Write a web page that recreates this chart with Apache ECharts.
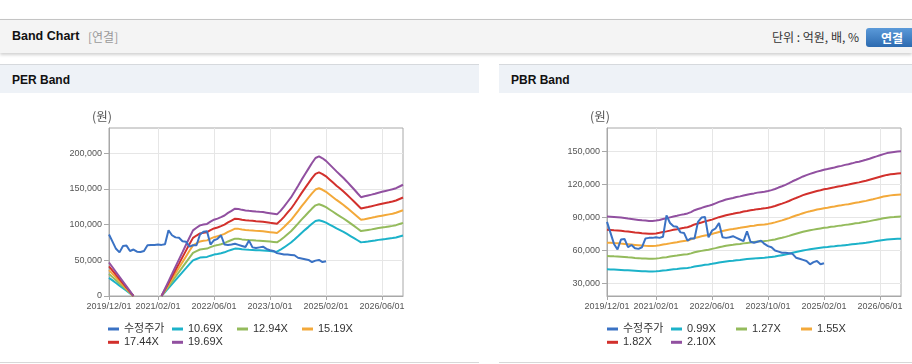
<!DOCTYPE html>
<html>
<head>
<meta charset="utf-8">
<script src="https://cdn.jsdelivr.net/npm/echarts@6/dist/echarts.min.js"></script>
<style>
html,body{margin:0;padding:0;width:912px;height:364px;overflow:hidden;background:#fff;font-family:"Liberation Sans","Noto Sans CJK KR",sans-serif;}
#topbar{position:absolute;left:0;top:19px;width:912px;height:33px;background:#f4f4f4;border-top:1px solid #c4c4c4;box-shadow:0 2px 3px rgba(0,0,0,0.18);}
#topbar .t{position:absolute;left:12px;top:9px;font-size:12.5px;font-weight:bold;color:#111;}
#topbar .s{position:absolute;left:88px;top:9px;font-size:12px;color:#999;font-family:"Noto Sans CJK KR",sans-serif;line-height:15px;}
#topbar .u{position:absolute;right:53px;top:9px;font-size:12px;color:#333;font-family:"Noto Sans CJK KR",sans-serif;line-height:15px;}
#topbar .b{position:absolute;left:866px;top:8px;width:52px;height:19px;border-radius:3px;background:linear-gradient(#5b9ad9,#2c6ab0);color:#fff;font-weight:bold;font-size:12px;line-height:19px;text-align:center;font-family:"Noto Sans CJK KR",sans-serif;}
.ph{position:absolute;top:64px;height:28px;background:#eef2f7;border-top:1px solid #d6d9dd;}
.ph span{position:absolute;left:12px;top:8px;font-size:12px;font-weight:bold;color:#111;}
.pb{position:absolute;top:362px;height:1px;background:#d8d8d8;}
#chart{position:absolute;left:0;top:0;width:912px;height:364px;z-index:2;}
</style>
</head>
<body>
<div id="topbar"><div class="t">Band Chart</div><div class="s">[연결]</div><div class="u">단위 : 억원, 배, %</div><div class="b">연결</div></div>
<div class="ph" style="left:0;width:479px;"><span>PER Band</span></div>
<div class="ph" style="left:499px;width:413px;"><span>PBR Band</span></div>
<div class="pb" style="left:0;width:479px;"></div>
<div class="pb" style="left:499px;width:413px;"></div>
<div id="chart"></div>
<script>
// ---- categories (monthly) ----
const categories = [
'2019/12/01',
'2020/01/01','2020/02/01','2020/03/01','2020/04/01','2020/05/01','2020/06/01','2020/07/01','2020/08/01','2020/09/01','2020/10/01','2020/11/01','2020/12/01',
'2021/01/01','2021/02/01','2021/03/01','2021/04/01','2021/05/01','2021/06/01','2021/07/01','2021/08/01','2021/09/01','2021/10/01','2021/11/01','2021/12/01',
'2022/01/01','2022/02/01','2022/03/01','2022/04/01','2022/05/01','2022/06/01','2022/07/01','2022/08/01','2022/09/01','2022/10/01','2022/11/01','2022/12/01',
'2023/01/01','2023/02/01','2023/03/01','2023/04/01','2023/05/01','2023/06/01','2023/07/01','2023/08/01','2023/09/01','2023/10/01','2023/11/01','2023/12/01',
'2024/01/01','2024/02/01','2024/03/01','2024/04/01','2024/05/01','2024/06/01','2024/07/01','2024/08/01','2024/09/01','2024/10/01','2024/11/01','2024/12/01',
'2025/01/01','2025/02/01','2025/03/01','2025/04/01','2025/05/01','2025/06/01','2025/07/01','2025/08/01','2025/09/01','2025/10/01','2025/11/01','2025/12/01',
'2026/01/01','2026/02/01','2026/03/01','2026/04/01','2026/05/01','2026/06/01','2026/07/01','2026/08/01','2026/09/01','2026/10/01','2026/11/01','2026/12/01'
];
const xTickLabels = ['2019/12/01','2021/02/01','2022/06/01','2023/10/01','2025/02/01','2026/06/01'];
const perYTicks = [0,50000,100000,150000,200000];
const pbrYTicks = [30000,60000,90000,120000,150000];

const perNames = ['수정주가','10.69X','12.94X','15.19X','17.44X','19.69X'];
const pbrNames = ['수정주가','0.99X','1.27X','1.55X','1.82X','2.10X'];

// ---- 수정주가 (adjusted price) ----
const price = [
86000,76000,66000,61000,70000,70500,63000,65000,62000,61500,
63000,71000,71500,71500,72000,71500,72500,92000,85000,82000,
81500,76500,76000,69000,71000,71000,86000,90000,90500,72000,
78000,80000,85000,72000,71500,72000,73000,71500,70000,68500,
77500,68000,67000,68000,69000,66000,64000,63000,60000,59000,
58000,58000,57500,57000,53500,52500,51500,50500,47500,49500,
50500,47500,48500];

// ---- PER bands ----
const N7 = [null,null,null,null,null,null,null];
const per1069 = [25400,21800,18200,14500,10900,7300,3600,0].concat(N7,[
0,5600,11100,16700,22200,27800,33400,38900,44500,49800,
51800,53700,54300,54700,56400,57900,58800,59900,61100,63100,
64700,66300,66100,65400,65000,64700,64500,64100,63900,63700,
63300,62900,62400,62000,64700,67900,71400,74800,79100,83600,
88200,92500,96700,101000,104800,106000,104500,102600,100000,97300,
94600,92100,89600,86800,83900,81000,78000,75000,75700,76300,
77000,77700,78500,79100,79700,80400,81000,81900,83200,84500]);
const per1294 = [30800,26400,22000,17600,13200,8800,4400,0].concat(N7,[
0,6700,13500,20200,26900,33600,40400,47100,53800,60300,
62800,65000,65700,66300,68300,70100,71200,72500,74000,76300,
78300,80200,80000,79200,78700,78300,78000,77600,77400,77100,
76600,76100,75600,75100,78300,82200,86400,90600,95800,101200,
106800,111900,117100,122300,126800,128400,126600,124200,121000,117800,
114500,111500,108400,105100,101600,98100,94500,90800,91600,92400,
93200,94100,95000,95800,96500,97300,98100,99100,100700,102200]);
const per1519 = [36200,31000,25800,20700,15500,10300,5200,0].concat(N7,[
0,7900,15800,23700,31600,39500,47400,55300,63200,70800,
73700,76300,77200,77800,80200,82300,83500,85100,86900,89600,
91900,94200,93900,93000,92400,91900,91600,91100,90800,90500,
89900,89300,88700,88100,91900,96500,101500,106300,112400,118800,
125300,131400,137500,143500,148900,150700,148600,145800,142000,138200,
134400,130900,127300,123300,119200,115100,110900,106600,107500,108500,
109400,110400,111500,112400,113300,114200,115100,116400,118200,120000]);
const per1744 = [41500,35600,29600,23700,17800,11900,5900,0].concat(N7,[
0,9100,18100,27200,36300,45300,54400,63500,72600,81300,
84600,87500,88600,89300,92100,94500,95900,97700,99800,102900,
105500,108100,107800,106700,106000,105500,105200,104600,104300,103900,
103200,102500,101900,101200,105500,110700,116500,122100,129100,136400,
143900,150900,157800,164800,170900,173000,170600,167400,163100,158700,
154300,150300,146100,141600,136900,132200,127300,122400,123500,124500,
125600,126800,128000,129100,130100,131100,132200,133600,135700,137800]);
const per1969 = [46900,40200,33500,26800,20100,13400,6700,0].concat(N7,[
0,10200,20500,30700,41000,51200,61400,71700,81900,91800,
95500,98800,100000,100800,104000,106700,108300,110300,112600,116200,
119100,122100,121700,120500,119700,119100,118700,118100,117700,117400,
116600,115800,115000,114200,119100,125000,131500,137800,145700,154000,
162400,170300,178200,186100,193000,195300,192600,189000,184100,179200,
174300,169700,165000,159900,154600,149300,143700,138200,139400,140600,
141800,143100,144500,145700,146900,148100,149300,150800,153200,155600]);

// ---- PBR bands ----
const pbr099 = [
42900,42800,42700,42600,42400,42200,42000,41800,41600,41400,
41200,41100,41000,41000,41100,41400,41800,42100,42500,42900,
43200,43600,43900,44200,44700,45500,46000,46500,47000,47400,
47900,48500,49100,49600,50100,50500,50800,51200,51500,51900,
52200,52500,52800,53100,53300,53500,53800,54200,54600,55200,
55800,56400,57100,57900,58600,59300,60000,60600,61100,61600,
62100,62500,62900,63200,63600,63900,64300,64500,64900,65200,
65600,66000,66300,66700,67100,67600,68100,68600,69100,69600,
70000,70300,70500,70700,70800];
const pbr127 = [
55000,54900,54700,54600,54400,54100,53800,53600,53300,53100,
52800,52700,52600,52600,52700,53100,53600,54000,54500,55000,
55400,55900,56300,56600,57400,58400,59100,59700,60300,60800,
61500,62200,63000,63600,64300,64800,65200,65700,66000,66500,
66900,67300,67700,68100,68300,68600,69000,69500,70100,70900,
71600,72400,73300,74300,75200,76100,77000,77700,78400,79000,
79600,80100,80600,81000,81500,81900,82400,82800,83300,83700,
84200,84700,85100,85600,86100,86700,87400,88000,88600,89300,
89800,90200,90400,90700,90800];
const pbr155 = [
67100,67000,66800,66700,66300,66000,65700,65400,65100,64800,
64500,64300,64200,64200,64300,64800,65400,65900,66500,67100,
67600,68200,68700,69100,70100,71300,72100,72900,73600,74200,
75000,76000,76900,77700,78400,79100,79500,80100,80600,81200,
81700,82200,82600,83100,83400,83700,84200,84800,85600,86500,
87400,88400,89400,90700,91800,92800,93900,94900,95600,96400,
97200,97800,98400,98900,99500,100000,100600,101100,101700,102100,
102800,103400,103900,104500,105100,105900,106600,107400,108200,109000,
109600,110100,110400,110700,110800];
const pbr182 = [
78800,78600,78400,78300,77900,77500,77200,76800,76400,76100,
75700,75500,75300,75300,75500,76100,76800,77400,78100,78800,
79400,80100,80600,81200,82300,83700,84600,85500,86500,87200,
88100,89200,90300,91200,92100,92800,93400,94100,94600,95400,
95900,96500,97000,97600,97900,98300,98800,99600,100500,101600,
102600,103700,105000,106500,107700,109000,110300,111400,112300,113200,
114100,114800,115600,116100,116800,117400,118100,118700,119400,119900,
120700,121400,121900,122700,123400,124300,125200,126100,127000,127900,
128700,129200,129600,129900,130100];
const pbr210 = [
90900,90700,90500,90300,89900,89500,89000,88600,88200,87800,
87400,87200,86900,86900,87200,87800,88600,89300,90100,90900,
91600,92400,93000,93700,94900,96600,97700,98700,99800,100600,
101600,102900,104200,105200,106300,107100,107700,108600,109200,110000,
110700,111300,111900,112600,113000,113400,114000,114900,115900,117200,
118400,119700,121200,122900,124300,125800,127300,128500,129600,130600,
131700,132500,133400,134000,134800,135500,136300,136900,137800,138400,
139200,140100,140700,141500,142400,143400,144500,145500,146600,147600,
148500,149100,149500,149900,150200];

const colors = ['#3a72c4','#1cb2c9','#94bb5c','#f3a93a','#d2302c','#9150a0'];
const axisFont = "'Liberation Sans',Arial,sans-serif";
const axisSize = 9;

const showTick = (i, v) => xTickLabels.indexOf(v) >= 0;

function xAxis(g){
  return {type:'category',gridIndex:g,data:categories,boundaryGap:false,
    axisLine:{lineStyle:{color:'#a8a8a8'}},
    axisTick:{interval:showTick,length:4,lineStyle:{color:'#a8a8a8'}},
    axisLabel:{interval:showTick,color:'#555',fontSize:axisSize,fontFamily:axisFont,margin:6,hideOverlap:false,showMinLabel:true,showMaxLabel:true},
    splitLine:{show:true,interval:showTick,lineStyle:{color:'#e6e6e6'}}};
}
function yAxis(g,min,max,ticks){
  return {type:'value',gridIndex:g,min:min,max:max,
    axisLine:{show:true,lineStyle:{color:'#a8a8a8'}},
    axisTick:{show:true,length:5,customValues:ticks,lineStyle:{color:'#a8a8a8'}},
    axisLabel:{customValues:ticks,color:'#555',fontSize:axisSize,fontFamily:axisFont,margin:7},
    splitLine:{show:true,lineStyle:{color:'#e6e6e6'}}};
}
const legendPos = [[0,0],[1,0],[2,0],[3,0],[0,1],[1,1]];
const colX = [0,64,129,194];
const rowY = [323.5,336.8];
function legends(left,names){
  return names.map((n,k)=>({left:left+colX[legendPos[k][0]],top:rowY[legendPos[k][1]],padding:0,
    itemWidth:11,itemHeight:3,icon:'rect',data:[n],selectedMode:false,
    textStyle:{fontSize:11,color:'#333',fontFamily:"'Liberation Sans','Noto Sans CJK KR',sans-serif"}}));
}
function line(name,data,xi,ci,z){
  return {name:name,type:'line',xAxisIndex:xi,yAxisIndex:xi,data:data,showSymbol:false,symbol:'none',
    connectNulls:false,z:z||2,lineStyle:{width:2,color:colors[ci]},itemStyle:{color:colors[ci]},animation:false};
}

const chart = echarts.init(document.getElementById('chart'));
chart.setOption({
  animation:false,
  grid:[
    {left:109,top:128,width:294,height:168,show:true,borderColor:'#a8a8a8',borderWidth:1,containLabel:false},
    {left:607,top:128,width:294,height:168,show:true,borderColor:'#a8a8a8',borderWidth:1,containLabel:false}
  ],
  xAxis:[xAxis(0),xAxis(1)],
  yAxis:[yAxis(0,0,235000,perYTicks),yAxis(1,18700,171300,pbrYTicks)],
  legend:legends(108,perNames).concat(legends(607,pbrNames)),
  graphic:[
    {type:'text',left:92,top:110,style:{text:'(원)',fontSize:12.5,fill:'#555',fontFamily:"'Noto Sans CJK KR',sans-serif"}},
    {type:'text',left:590,top:110,style:{text:'(원)',fontSize:12.5,fill:'#555',fontFamily:"'Noto Sans CJK KR',sans-serif"}}
  ],
  series:[
    line(perNames[0],price,0,0,3),
    line(perNames[1],per1069,0,1),
    line(perNames[2],per1294,0,2),
    line(perNames[3],per1519,0,3),
    line(perNames[4],per1744,0,4),
    line(perNames[5],per1969,0,5),
    line(pbrNames[0],price,1,0,3),
    line(pbrNames[1],pbr099,1,1),
    line(pbrNames[2],pbr127,1,2),
    line(pbrNames[3],pbr155,1,3),
    line(pbrNames[4],pbr182,1,4),
    line(pbrNames[5],pbr210,1,5)
  ]
});
</script>
</body>
</html>
